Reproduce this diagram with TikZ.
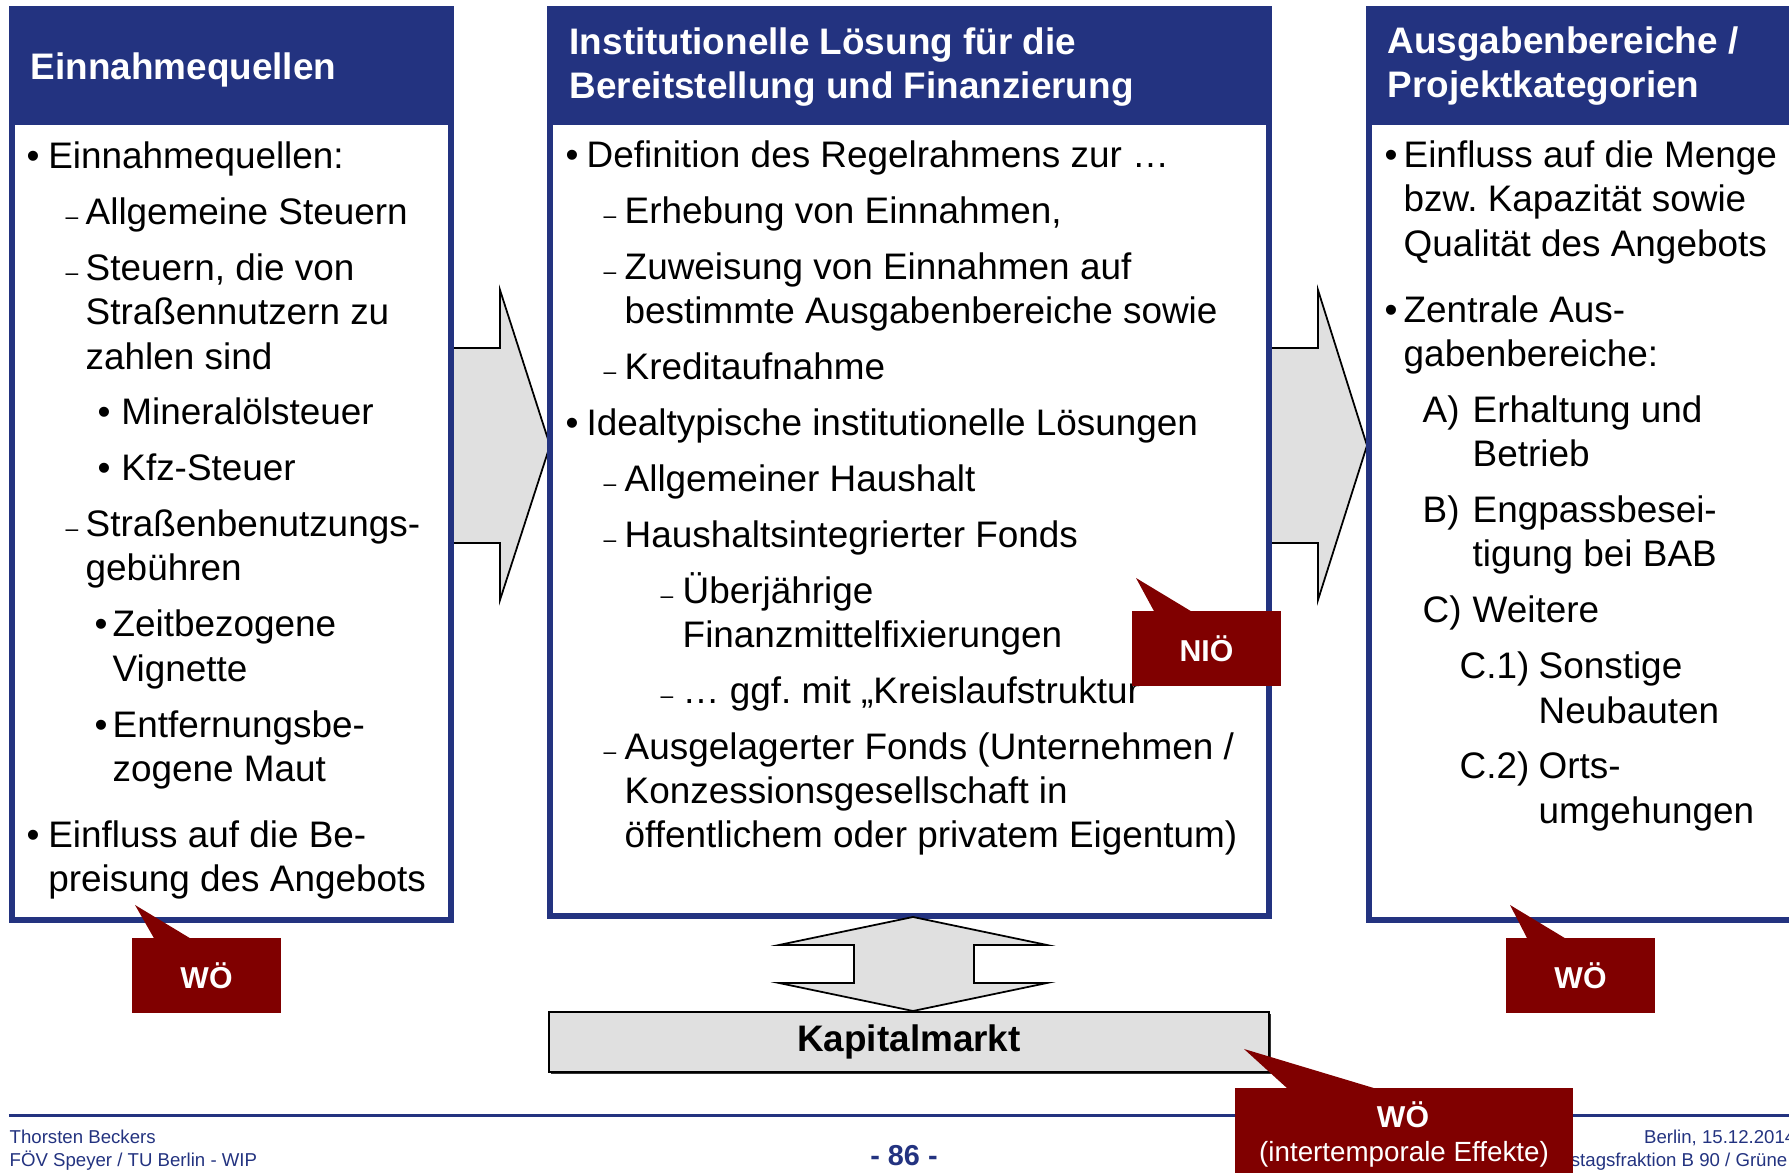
\documentclass[tikz,border=0pt]{standalone}
\usepackage{fontspec}
\setmainfont{Liberation Sans}
\usepackage{xcolor}
\usetikzlibrary{positioning,shadows}

\definecolor{slideblue}{RGB}{35,51,128}
\definecolor{wored}{RGB}{128,0,0}
\definecolor{arrowgray}{RGB}{224,224,224}

\frenchspacing
\newcommand{\bodyfont}{\fontsize{10.5}{12.6}\selectfont}
\newcommand{\itembul}[2]{\hspace*{#1}\makebox[#2][l]{•}}
\newcommand{\itemdash}[2]{\hspace*{#1}\makebox[#2][l]{\fontsize{6.5}{6.5}\selectfont –}}
\newcommand{\itemlab}[3]{\hspace*{#1}\makebox[#2][l]{#3}}

\tikzset{
  boxframe/.style={draw=slideblue, line width=0.06cm, fill=white},
  body/.style={anchor=north west, inner sep=0pt, align=left, font=\bodyfont},
  headtext/.style={anchor=north west, inner sep=0pt, align=left, text=white, font={\bodyfont\bfseries}},
  blockarrow/.style={draw=black, line width=0.5pt, fill=arrowgray, line join=miter},
  marketbox/.style={draw=black, line width=0.5pt, fill=arrowgray, font={\bodyfont\bfseries},
    drop shadow={shadow xshift=0.7pt, shadow yshift=-0.7pt, fill=black!80, opacity=1}},
  wocallout/.style={fill=wored, text=white, font={\fontsize{8.6}{10}\selectfont\bfseries},
    minimum width=1.49cm, minimum height=0.75cm, inner sep=0pt},
  footertext/.style={text=slideblue, inner sep=0pt, font=\fontsize{5.3}{6.4}\selectfont},
}

\begin{document}
\begin{tikzpicture}
    \useasboundingbox (0,0) rectangle (17.89,-11.73);
    \clip (0,0) rectangle (17.89,-11.73);

    % block arrows between the columns
    \draw[blockarrow] (4.50,-3.48) -- (5.00,-3.48) -- (5.00,-2.90) -- (5.50,-4.455) -- (5.00,-6.00) -- (5.00,-5.43) -- (4.50,-5.43) -- cycle;
    \draw[blockarrow] (12.69,-3.48) -- (13.18,-3.48) -- (13.18,-2.90) -- (13.67,-4.455) -- (13.18,-6.00) -- (13.18,-5.43) -- (12.69,-5.43) -- cycle;

    % column frames with headers
    \draw[boxframe] (0.12,-0.09) rectangle (4.51,-9.20);
    \fill[slideblue] (0.09,-0.06) rectangle (4.54,-1.25);
    \draw[boxframe] (5.50,-0.09) rectangle (12.69,-9.16);
    \fill[slideblue] (5.47,-0.06) rectangle (12.72,-1.25);
    \draw[boxframe] (13.69,-0.09) rectangle (18.30,-9.20);
    \fill[slideblue] (13.66,-0.06) rectangle (18.33,-1.25);

    \node[headtext] (quellenkopf) at (0.30,-0.48) {\strut Einnahmequellen};
    \node[headtext] (institutkopf) at (5.69,-0.23) {\strut Institutionelle Lösung für die\\Bereitstellung und Finanzierung};
    \node[headtext] (ausgabenkopf) at (13.87,-0.22) {\strut Ausgabenbereiche /\\Projektkategorien};

    % left column
    \node[body] (quellen) at (0.26,-1.37) {\strut\itembul{0pt}{0.217cm}Einnahmequellen:\\[3.3pt]
        \itemdash{0.39cm}{0.20cm}Allgemeine Steuern\\[3.3pt]
        \itemdash{0.39cm}{0.20cm}Steuern, die von\\
        \hspace*{0.59cm}Straßennutzern zu\\
        \hspace*{0.59cm}zahlen sind\\[3.3pt]
        \itembul{0.71cm}{0.237cm}Mineralölsteuer\\[3.3pt]
        \itembul{0.71cm}{0.237cm}Kfz-Steuer\\[3.3pt]
        \itemdash{0.39cm}{0.20cm}Straßenbenutzungs-\\
        \hspace*{0.59cm}gebühren\\[3.3pt]
        \itembul{0.68cm}{0.18cm}Zeitbezogene\\
        \hspace*{0.86cm}Vignette\\[3.3pt]
        \itembul{0.68cm}{0.18cm}Entfernungsbe-\\
        \hspace*{0.86cm}zogene Maut\\[6.2pt]
        \itembul{0pt}{0.217cm}Einfluss auf die Be-\\
        \hspace*{0.217cm}preisung des Angebots};

    % middle column
    \node[body] (institution) at (5.65,-1.36) {\strut\itembul{0pt}{0.21cm}Definition des Regelrahmens zur …\\[3.3pt]
        \itemdash{0.38cm}{0.21cm}Erhebung von Einnahmen,\\[3.3pt]
        \itemdash{0.38cm}{0.21cm}Zuweisung von Einnahmen auf\\
        \hspace*{0.59cm}bestimmte Ausgabenbereiche sowie\\[3.3pt]
        \itemdash{0.38cm}{0.21cm}Kreditaufnahme\\[3.3pt]
        \itembul{0pt}{0.21cm}Idealtypische institutionelle Lösungen\\[3.3pt]
        \itemdash{0.38cm}{0.21cm}Allgemeiner Haushalt\\[3.3pt]
        \itemdash{0.38cm}{0.21cm}Haushaltsintegrierter Fonds\\[3.3pt]
        \itemdash{0.95cm}{0.22cm}Überjährige\\
        \hspace*{1.17cm}Finanzmittelfixierungen\\[3.3pt]
        \itemdash{0.95cm}{0.22cm}… ggf. mit „Kreislaufstruktur“\\[3.3pt]
        \itemdash{0.38cm}{0.21cm}Ausgelagerter Fonds (Unternehmen /\\
        \hspace*{0.59cm}Konzessionsgesellschaft in\\
        \hspace*{0.59cm}öffentlichem oder privatem Eigentum)};

    % right column
    \node[body] (ausgaben) at (13.84,-1.36) {\strut\itembul{0pt}{0.19cm}Einfluss auf die Menge\\
        \hspace*{0.19cm}bzw. Kapazität sowie\\
        \hspace*{0.19cm}Qualität des Angebots\\[6.2pt]
        \itembul{0pt}{0.19cm}Zentrale Aus-\\
        \hspace*{0.19cm}gabenbereiche:\\[3.3pt]
        \itemlab{0.38cm}{0.50cm}{A)}Erhaltung und\\
        \hspace*{0.88cm}Betrieb\\[3.3pt]
        \itemlab{0.38cm}{0.50cm}{B)}Engpassbesei-\\
        \hspace*{0.88cm}tigung bei BAB\\[3.3pt]
        \itemlab{0.38cm}{0.50cm}{C)}Weitere\\[3.3pt]
        \itemlab{0.75cm}{0.79cm}{C.1)}Sonstige\\
        \hspace*{1.54cm}Neubauten\\[3.3pt]
        \itemlab{0.75cm}{0.79cm}{C.2)}Orts-\\
        \hspace*{1.54cm}umgehungen};

    % capital market
    \draw[blockarrow] (9.13,-9.17) -- (10.47,-9.45) -- (9.74,-9.45) -- (9.74,-9.83) -- (10.47,-9.83) -- (9.13,-10.11) -- (7.79,-9.83) -- (8.54,-9.83) -- (8.54,-9.45) -- (7.79,-9.45) -- cycle;
    \node[marketbox, minimum width=7.2cm, minimum height=0.6cm] (kapital) at (9.09,-10.42) {Kapitalmarkt};

    % footer
    \draw[slideblue, line width=0.03cm] (0.09,-11.16) -- (17.95,-11.16);
    \node[footertext, anchor=base west] (autor) at (0.09,-11.44) {Thorsten Beckers};
    \node[footertext, anchor=base west] (institut) at (0.09,-11.67) {FÖV Speyer / TU Berlin - WIP};
    \node[footertext, anchor=base, font=\fontsize{8.2}{9}\selectfont\bfseries] (seite) at (9.04,-11.66) {- 86 -};
    \node[footertext, anchor=base east] (datum) at (17.96,-11.44) {Berlin, 15.12.2014};
    \node[footertext, anchor=base east] (fraktion) at (17.88,-11.67) {stagsfraktion B 90 / Grüne};

    % callouts
    \fill[wored] (1.35,-9.05) -- (1.55,-9.40) -- (1.93,-9.40) -- cycle;
    \node[wocallout] (woquellen) at (2.065,-9.755) {WÖ};
    \fill[wored] (15.10,-9.05) -- (15.28,-9.40) -- (15.68,-9.40) -- cycle;
    \node[wocallout] (woausgaben) at (15.805,-9.755) {WÖ};
    \fill[wored] (11.36,-5.78) -- (11.55,-6.13) -- (11.94,-6.13) -- cycle;
    \node[wocallout] (nioe) at (12.065,-6.485) {NIÖ};
    \fill[wored] (12.44,-10.49) -- (12.88,-10.89) -- (13.77,-10.89) -- cycle;
    \fill[wored] (12.35,-10.88) rectangle (15.73,-11.90);
    \node[wocallout, minimum width=0pt, minimum height=0pt, fill=none, anchor=base] (wokapital) at (14.03,-11.28) {WÖ};
    \node[wocallout, minimum width=0pt, minimum height=0pt, fill=none, anchor=base, font=\fontsize{7.9}{9}\selectfont] (effekte) at (14.04,-11.62) {(intertemporale Effekte)};
\end{tikzpicture}
\end{document}
